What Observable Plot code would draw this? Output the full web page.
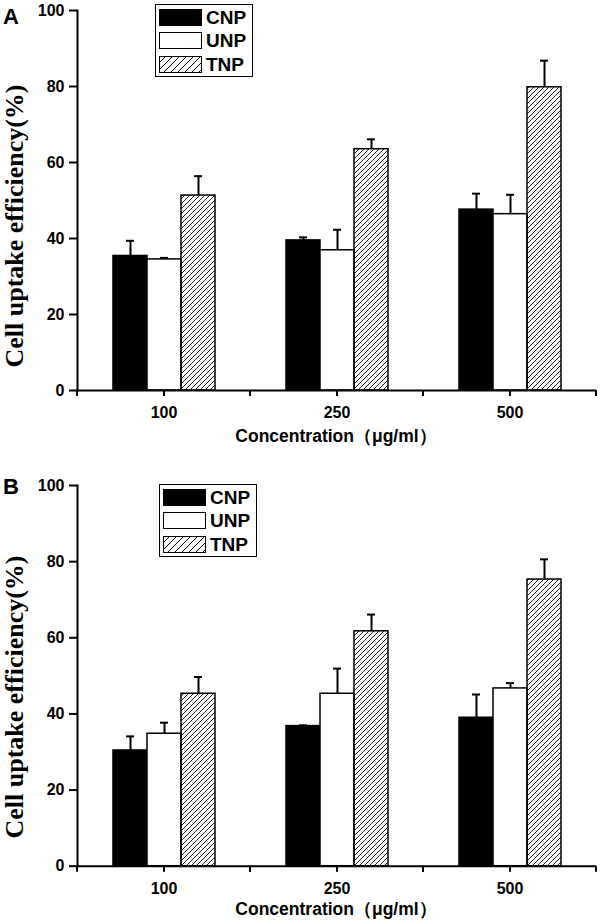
<!DOCTYPE html>
<html><head><meta charset="utf-8">
<script src="https://cdn.jsdelivr.net/npm/d3@7"></script>
<script src="https://cdn.jsdelivr.net/npm/@observablehq/plot@0.6"></script>
<style>
body{margin:0;background:#fff;font-family:"Liberation Sans",Arial,sans-serif;color:#000}
.panel{position:relative;width:600px;height:462px;overflow:hidden}
.panel svg.plot{position:absolute;left:0;top:0}
.plabel{position:absolute;font-weight:bold;font-size:22px;line-height:1}
.ytitle{position:absolute;font-family:"Liberation Serif","Times New Roman",serif;font-weight:bold;font-size:26px;white-space:nowrap;transform:translate(-50%,-50%) rotate(-90deg);line-height:1}
.xtitle{position:absolute;font-weight:bold;font-size:17.5px;white-space:nowrap;transform:translate(-50%,-50%);line-height:1}
.legend{position:absolute;border:1.5px solid #000;box-sizing:border-box;background:#fff}
.lrow{position:absolute;display:flex;align-items:center}
.lrow span{font-weight:bold;font-size:19px;margin-left:4px;line-height:1}
</style></head><body>
<svg width="0" height="0" style="position:absolute">
<defs>
<pattern id="hatch" patternUnits="userSpaceOnUse" width="5" height="5"><path d="M-1,1 l2,-2 M0,5 l5,-5 M4,6 l2,-2" stroke="#000" stroke-width="0.9"/></pattern>
<pattern id="hatchL" patternUnits="userSpaceOnUse" width="7" height="7"><path d="M-1,1 l2,-2 M0,7 l7,-7 M6,8 l2,-2" stroke="#000" stroke-width="1"/></pattern>
</defs></svg>
<div id="A" class="panel"></div>
<div id="B" class="panel"></div>
<script>
const concentrations = ["100", "250", "500"];
const series = ["CNP", "UNP", "TNP"];
const yTicks = [0, 20, 40, 60, 80, 100];
const xTitle = "Concentration（μg/ml）";
const yTitle = "Cell uptake efficiency(%)";

// Panel A
const A_CNP = [35.4, 39.5, 47.6];
const A_CNP_err = [4.0, 0.8, 4.2];
const A_UNP = [34.5, 36.9, 46.4];
const A_UNP_err = [0.4, 5.4, 5.1];
const A_TNP = [51.3, 63.5, 79.8];
const A_TNP_err = [5.1, 2.6, 7.0];

// Panel B
const B_CNP = [30.4, 36.8, 39.0];
const B_CNP_err = [3.7, 0.2, 6.1];
const B_UNP = [34.8, 45.3, 46.7];
const B_UNP_err = [2.9, 6.6, 1.4];
const B_TNP = [45.3, 61.7, 75.3];
const B_TNP_err = [4.4, 4.4, 5.3];

function rowsFrom(vals, errs) {
  const rows = [];
  concentrations.forEach((c, i) => series.forEach((s, j) => rows.push({conc: c, series: s, value: vals[j][i], err: errs[j][i]})));
  return rows;
}

function edgeTicks(index, scales, values, dimensions) {
  const g = d3.create("svg:g");
  const y0 = scales.y(0);
  const xs = [dimensions.marginLeft, dimensions.width - dimensions.marginRight];
  for (const x of xs) {
    g.append("line").attr("x1", x).attr("x2", x).attr("y1", y0).attr("y2", y0 + 6)
      .attr("stroke", "#000").attr("stroke-width", 2);
  }
  return g.node();
}

function makePanel(id, letter, rows, mt, mb, leg) {
  const el = document.getElementById(id);
  const chart = Plot.plot({
    width: 600, height: 462,
    marginLeft: 77, marginRight: 4, marginTop: mt, marginBottom: mb,
    style: {fontFamily: '"Liberation Sans", Arial, sans-serif', fontSize: "16px", fontWeight: "bold", color: "#000", background: "transparent", overflow: "visible"},
    fx: {domain: concentrations, padding: 0, label: null},
    x: {domain: series, paddingInner: 0, paddingOuter: 1, axis: null},
    y: {domain: [0, 100], label: null},
    color: {domain: series, range: ["#000", "#fff", "url(#hatch)"]},
    marks: [
      Plot.ruleX(rows, {fx: "conc", x: "series", y1: "value", y2: d => d.value + d.err, stroke: "#000", strokeWidth: 2}),
      Plot.tickY(rows, {fx: "conc", x: "series", y: d => d.value + d.err, stroke: "#000", strokeWidth: 2, insetLeft: 13, insetRight: 13}),
      Plot.barY(rows, {fx: "conc", x: "series", y: "value", fill: "series", stroke: "#000", strokeWidth: 1.5}),
      Plot.ruleY([0], {stroke: "#000", strokeWidth: 2}),
      Plot.frame({anchor: "left", facetAnchor: "left", stroke: "#000", strokeWidth: 2}),
      edgeTicks,
      Plot.axisY({ticks: yTicks, tickSize: 8, tickPadding: 5, strokeWidth: 2, label: null, fontSize: 16, fontWeight: "bold"}),
      Plot.axisFx({anchor: "bottom", tickSize: 6, tickPadding: 10, strokeWidth: 2, label: null, fontSize: 16, fontWeight: "bold"})
    ]
  });
  chart.classList.add("plot");
  el.appendChild(chart);

  const pl = document.createElement("div");
  pl.className = "plabel"; pl.textContent = letter;
  pl.style.left = "3px"; pl.style.top = leg.labelTop + "px";
  el.appendChild(pl);

  const yt = document.createElement("div");
  yt.className = "ytitle"; yt.textContent = yTitle;
  yt.style.left = "15px"; yt.style.top = leg.yTitleY + "px";
  el.appendChild(yt);

  const xt = document.createElement("div");
  xt.className = "xtitle"; xt.textContent = xTitle;
  xt.style.left = "336px"; xt.style.top = leg.xTitleY + "px";
  el.appendChild(xt);

  const box = document.createElement("div");
  box.className = "legend";
  box.style.left = leg.x + "px"; box.style.top = leg.y + "px";
  box.style.width = leg.w + "px"; box.style.height = leg.h + "px";
  el.appendChild(box);
  const fills = ["#000", "#fff", "url(#hatchL)"];
  series.forEach((s, i) => {
    const r = document.createElement("div");
    r.className = "lrow";
    r.style.left = "3px"; r.style.top = (3 + i * 23.3) + "px";
    r.innerHTML = `<svg width="43" height="17"><rect x="0.5" y="0.5" width="42" height="16" fill="${fills[i]}" stroke="#000" stroke-width="1"/></svg><span>${s}</span>`;
    box.appendChild(r);
  });
}

makePanel("A", "A", rowsFrom([A_CNP, A_UNP, A_TNP], [A_CNP_err, A_UNP_err, A_TNP_err]), 10, 72,
  {x: 155, y: 4, w: 98, h: 73, labelTop: 6, yTitleY: 226, xTitleY: 437});
makePanel("B", "B", rowsFrom([B_CNP, B_UNP, B_TNP], [B_CNP_err, B_UNP_err, B_TNP_err]), 23, 58.3,
  {x: 159, y: 22, w: 98, h: 73, labelTop: 14, yTitleY: 235, xTitleY: 448});
</script>
</body></html>
